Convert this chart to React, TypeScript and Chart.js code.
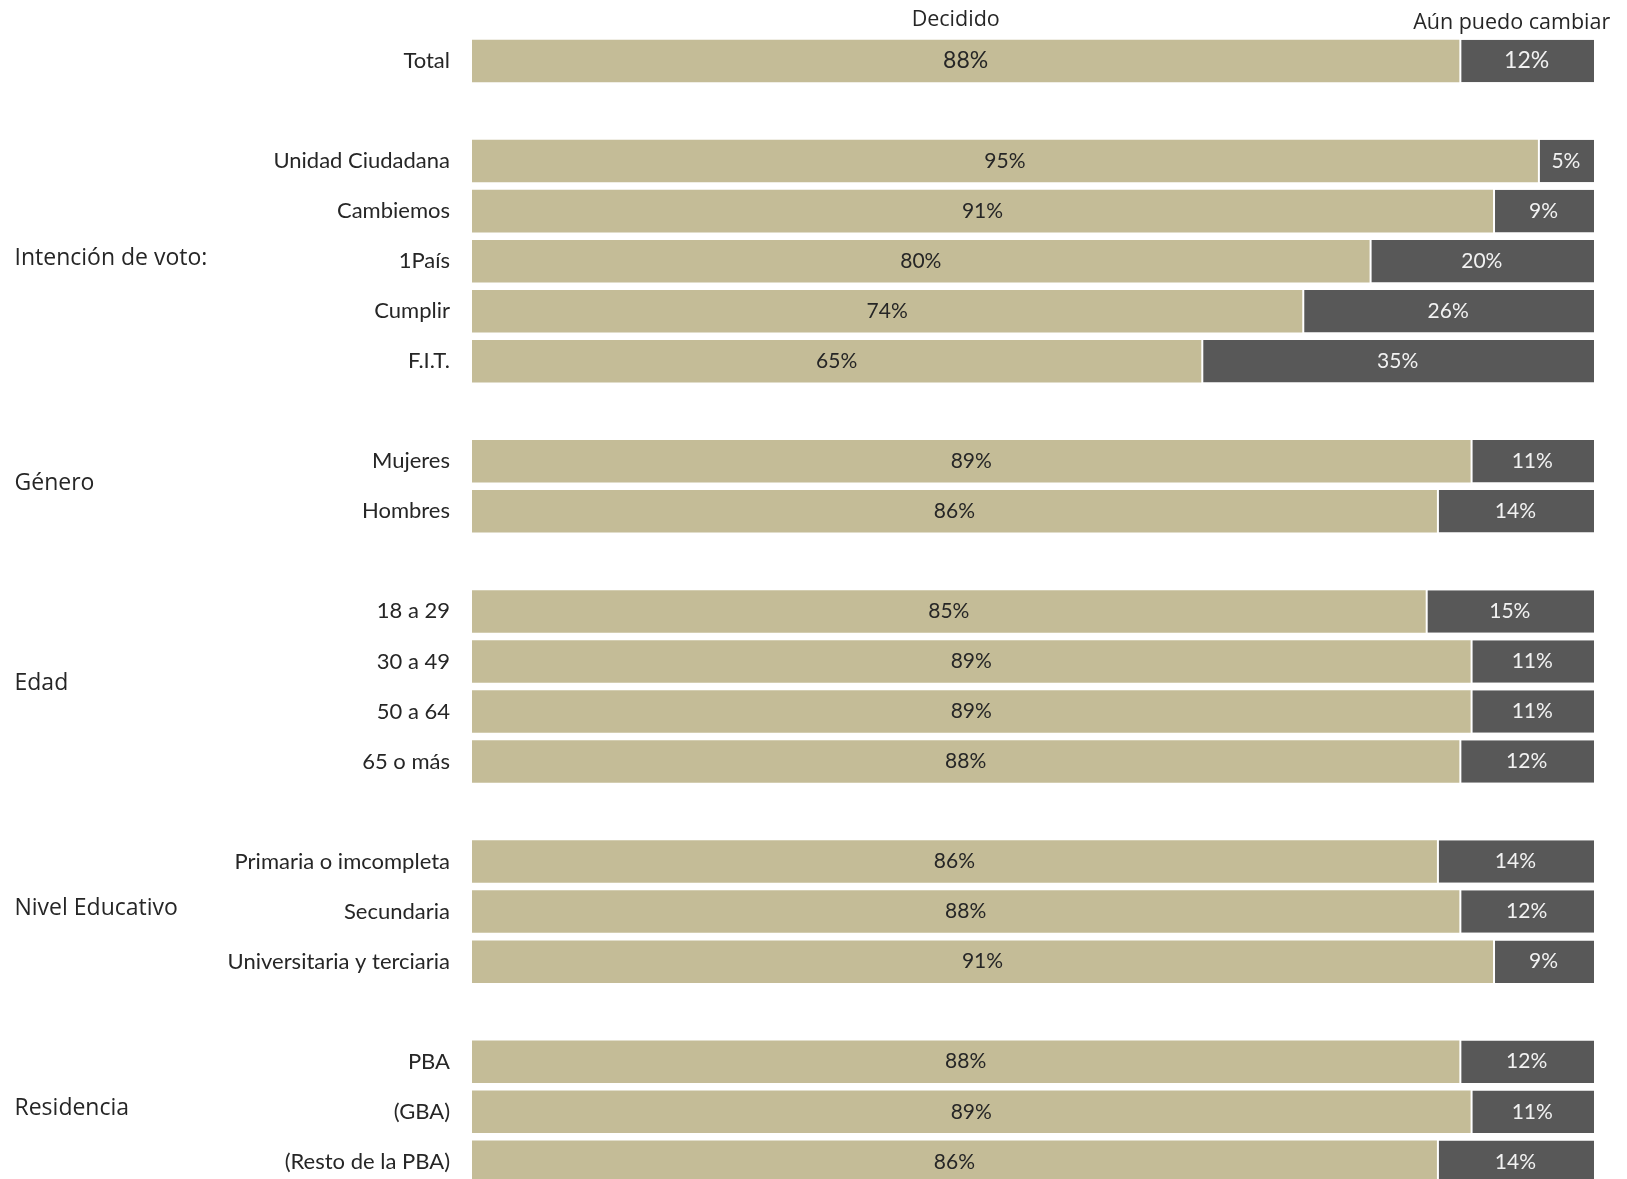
import React, { useEffect, useRef } from 'react';
import { Chart, registerables } from 'chart.js';

Chart.register(...registerables);

const categories = [
  'Total', '',
  'Unidad Ciudadana', 'Cambiemos', '1País', 'Cumplir', 'F.I.T.', '',
  'Mujeres', 'Hombres', '',
  '18 a 29', '30 a 49', '50 a 64', '65 o más', '',
  'Primaria o imcompleta', 'Secundaria', 'Universitaria y terciaria', '',
  'PBA', '(GBA)', '(Resto de la PBA)',
];
const decidido = [88, null, 95, 91, 80, 74, 65, null, 89, 86, null, 85, 89, 89, 88, null, 86, 88, 91, null, 88, 89, 86];
const aunPuedo = [12, null, 5, 9, 20, 26, 35, null, 11, 14, null, 15, 11, 11, 12, null, 14, 12, 9, null, 12, 11, 14];
const seriesNames = ['Decidido', 'Aún puedo cambiar'];
const groupLabels = ['Intención de voto:', 'Género', 'Edad', 'Nivel Educativo', 'Residencia'];
const groupMembers = [[2, 3, 4, 5, 6], [8, 9], [11, 12, 13, 14], [16, 17, 18], [20, 21, 22]];

const TAN = '#C4BC97';
const DARK = '#585858';
const FONT = 'Lato, "Open Sans", sans-serif';
const FONT2 = '"Open Sans", Lato, sans-serif';

const labelsPlugin = {
  id: 'customLabels',
  afterDatasetsDraw(chart: any) {
    const ctx = chart.ctx;
    ctx.save();
    chart.data.datasets.forEach((ds: any, di: number) => {
      const meta = chart.getDatasetMeta(di);
      meta.data.forEach((el: any, i: number) => {
        const v = ds.data[i];
        if (v === null || v === undefined) return;
        const c = el.getCenterPoint();
        ctx.font = `${i === 0 ? 23 : 21}px ${FONT}`;
        ctx.fillStyle = di === 0 ? '#262626' : '#F2F2F2';
        ctx.textAlign = 'center';
        ctx.textBaseline = 'middle';
        ctx.fillText(`${v}%`, c.x, c.y);
      });
    });
    // header labels over the Total row
    const offs = [-10, -15];
    const dy = [-41, -38];
    chart.data.datasets.forEach((ds: any, di: number) => {
      const el = chart.getDatasetMeta(di).data[0];
      const c = el.getCenterPoint();
      ctx.font = `21.5px ${FONT2}`;
      ctx.fillStyle = '#262626';
      ctx.textAlign = 'center';
      ctx.textBaseline = 'middle';
      ctx.fillText(seriesNames[di], c.x + offs[di], c.y + dy[di]);
    });
    // group labels
    const yScale = chart.scales.y;
    ctx.font = `23px ${FONT2}`;
    ctx.fillStyle = '#262626';
    ctx.textAlign = 'left';
    ctx.textBaseline = 'middle';
    groupLabels.forEach((g, gi) => {
      const m = groupMembers[gi];
      const y = m.reduce((a, idx) => a + yScale.getPixelForValue(idx), 0) / m.length;
      ctx.fillText(g, 14.5, y - 3);
    });
    ctx.restore();
  },
};

export default function App() {
  const ref = useRef<HTMLCanvasElement>(null);
  useEffect(() => {
    if (!ref.current) return;
    const chart = new Chart(ref.current, {
      type: 'bar',
      data: {
        labels: categories,
        datasets: [
          {
            label: seriesNames[0],
            data: decidido,
            backgroundColor: TAN,
            barPercentage: 0.85,
            categoryPercentage: 1,
            borderWidth: 0,
          },
          {
            label: seriesNames[1],
            data: aunPuedo,
            backgroundColor: DARK,
            barPercentage: 0.85,
            categoryPercentage: 1,
            borderColor: '#FFFFFF',
            borderWidth: { left: 2, right: 0, top: 0, bottom: 0 },
            borderSkipped: false,
          },
        ],
      } as any,
      options: {
        indexAxis: 'y',
        responsive: true,
        maintainAspectRatio: false,
        animation: false,
        layout: { padding: { left: 0, right: 33, top: 36, bottom: 0 } },
        plugins: {
          legend: { display: false },
          tooltip: { enabled: false },
          title: { display: false },
        },
        scales: {
          x: {
            stacked: true,
            min: 0,
            max: 100,
            display: false,
          },
          y: {
            stacked: true,
            border: { display: false },
            grid: { display: false, drawTicks: false },
            ticks: {
              padding: 22,
              color: '#262626',
              font: { family: FONT, size: 22 },
            },
            afterFit: (s: any) => {
              s.width = 472;
            },
          },
        },
      } as any,
      plugins: [labelsPlugin],
    });
    return () => chart.destroy();
  }, []);
  return (
    <div style={{ position: 'fixed', left: 0, top: 0, width: 1627, height: 1179, overflow: 'hidden', background: '#fff' }}>
      <div style={{ position: 'relative', width: 1627, height: 1222 }}>
        <canvas ref={ref} />
      </div>
    </div>
  );
}
